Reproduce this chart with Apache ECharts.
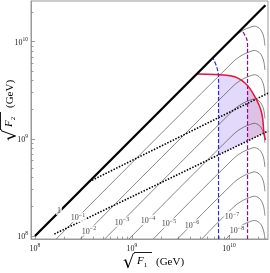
<!DOCTYPE html>
<html><head><meta charset="utf-8">
<script src="https://cdn.jsdelivr.net/npm/echarts@6/dist/echarts.min.js"></script>
<style>html,body{margin:0;padding:0;background:#fff}#c{width:270px;height:273px}</style>
</head><body><div id="c"></div>
<script>
// All coordinates are log10 of sqrt(F) in GeV.
const xRange = [7.959, 10.402];
const yRange = [7.969, 10.419];
const majorTicks = [8, 9, 10];
const minorMultipliers = [2, 3, 4, 5, 6, 7, 8, 9];

const diagonal = [[8.0, 8.0], [10.375, 10.375]];
const contourExponents = [0, -1, -2, -3, -4, -5, -6, -7, -8];
const contour0 = [[10.00,10.00],[10.05,10.05],[10.15,10.12],[10.21,10.145],[10.26,10.16],[10.31,10.14],[10.34,10.10],[10.36,10.04],[10.37,9.96]];
const contour1 = [[8.22,7.97],[10.05,9.80],[10.15,9.87],[10.21,9.895],[10.26,9.91],[10.31,9.89],[10.34,9.85],[10.36,9.79],[10.37,9.71]];
const contour2 = [[8.47,7.97],[10.05,9.55],[10.15,9.62],[10.21,9.645],[10.26,9.66],[10.31,9.64],[10.34,9.60],[10.36,9.54],[10.37,9.46]];
const contour3 = [[8.72,7.97],[10.05,9.30],[10.15,9.37],[10.21,9.395],[10.26,9.41],[10.31,9.39],[10.34,9.35],[10.36,9.29],[10.37,9.21]];
const contour4 = [[8.97,7.97],[10.05,9.05],[10.15,9.12],[10.21,9.145],[10.26,9.16],[10.31,9.14],[10.34,9.10],[10.36,9.04],[10.37,8.96]];
const contour5 = [[9.22,7.97],[10.05,8.80],[10.15,8.87],[10.21,8.895],[10.26,8.91],[10.31,8.89],[10.34,8.85],[10.36,8.79],[10.37,8.71]];
const contour6 = [[9.47,7.97],[10.05,8.55],[10.15,8.62],[10.21,8.645],[10.26,8.66],[10.31,8.64],[10.34,8.60],[10.36,8.54],[10.37,8.46]];
const contour7 = [[9.72,7.97],[10.05,8.30],[10.15,8.37],[10.21,8.395],[10.26,8.41],[10.31,8.39],[10.34,8.35],[10.36,8.29],[10.37,8.21]];
const contour8 = [[9.97,7.97],[10.05,8.05],[10.15,8.12],[10.21,8.145],[10.26,8.16],[10.31,8.14],[10.34,8.10],[10.36,8.04],[10.37,7.97]];
const contourLabelPos = [[8.247,8.268],[8.443,8.193],[8.557,8.057],[8.897,8.147],[9.165,8.165],[9.381,8.131],[9.619,8.119],[10.031,8.206],[10.082,8.062]];

const dottedUpper = [[8.56, 8.56], [10.402, 9.47]];
const dottedLower = [[8.20, 8.02], [10.402, 9.08]];
const blueDashed = [[9.892,7.969],[9.892,9.63],[9.886,9.69],[9.872,9.745],[9.835,9.832]];
const purpleDashed = [[10.191,7.969],[10.191,9.96],[10.185,10.02],[10.165,10.065],[10.13,10.125]];
const redCurve = [[9.670,9.667],[9.856,9.662],[10.028,9.647],[10.165,9.575],[10.268,9.431],[10.337,9.266],[10.361,9.060],[10.376,8.988]];

const contours = [contour0, contour1, contour2, contour3, contour4, contour5, contour6, contour7, contour8];

function lineAt(seg, x) {
  const [a, b] = seg;
  return a[1] + (b[1] - a[1]) * (x - a[0]) / (b[0] - a[0]);
}
function curveAt(pts, x) {
  for (let i = 0; i < pts.length - 1; i++) {
    if (x >= pts[i][0] && x <= pts[i + 1][0]) {
      const t = (x - pts[i][0]) / (pts[i + 1][0] - pts[i][0]);
      return pts[i][1] + t * (pts[i + 1][1] - pts[i][1]);
    }
  }
  return pts[pts.length - 1][1];
}
// region between a vertical boundary x0, the red curve above and the lower dotted line below
function region(x0) {
  const pts = [[x0, lineAt(dottedLower, x0)], [x0, curveAt(redCurve, x0)]];
  for (let i = 0; i < redCurve.length; i++) {
    const p = redCurve[i];
    if (p[0] <= x0) continue;
    const d = lineAt(dottedLower, p[0]);
    if (p[1] >= d) { pts.push(p); continue; }
    const q = redCurve[i - 1];
    const dq = lineAt(dottedLower, q[0]);
    const t = (q[1] - dq) / ((q[1] - dq) - (p[1] - d));
    const xi = q[0] + t * (p[0] - q[0]);
    pts.push([xi, lineAt(dottedLower, xi)]);
    break;
  }
  return pts;
}
const regionA = region(blueDashed[0][0]);
const regionB = region(purpleDashed[0][0]);

const serif = '"Liberation Serif", "DejaVu Serif", serif';
const tickRich = {
  b: { fontSize: 8, fontFamily: serif, color: '#222', verticalAlign: 'bottom', lineHeight: 10 },
  s: { fontSize: 5.5, fontFamily: serif, color: '#222', verticalAlign: 'top', lineHeight: 10 }
};
const minorVals = [];
for (const m of [7, 8, 9, 10]) for (const k of minorMultipliers) minorVals.push(m + Math.log10(k));

function axisPair(dim, range) {
  const base = {
    type: 'value', min: range[0], max: range[1], gridIndex: 0,
    position: dim === 'x' ? 'bottom' : 'left',
    splitLine: { show: false }
  };
  return [
    Object.assign({}, base, {
      axisLine: { show: true, lineStyle: { color: '#999', width: 1 } },
      axisTick: { show: true, inside: true, length: 4, customValues: majorTicks, lineStyle: { color: '#888', width: 0.8 } },
      axisLabel: {
        show: true, customValues: majorTicks, margin: dim === 'x' ? 4 : 3,
        formatter: v => '{b|10}{s|' + Math.round(v) + '}', rich: tickRich
      }
    }),
    Object.assign({}, base, {
      axisLine: { show: false },
      axisTick: { show: true, inside: true, length: 2.5, customValues: minorVals, lineStyle: { color: '#888', width: 0.8 } },
      axisLabel: { show: false }
    })
  ];
}

function polySeries(pts, color, z) {
  return {
    type: 'custom', coordinateSystem: 'cartesian2d', z: z, silent: true, clip: true,
    data: [pts[0]],
    renderItem: (params, api) => ({
      type: 'polygon',
      shape: { points: pts.map(p => api.coord(p)) },
      style: { fill: color }
    })
  };
}

const series = [];
series.push(polySeries(regionA, '#e2d9fb', 1));
series.push(polySeries(regionB, 'rgba(215,150,190,0.35)', 2));
contours.forEach((c, i) => series.push({
  type: 'line', data: c, symbol: 'none', smooth: 0.35, z: 3, silent: true,
  lineStyle: { color: '#444', width: 0.65 }
}));
series.push({ type: 'line', data: dottedUpper, symbol: 'none', z: 4, lineStyle: { color: '#000', width: 1.6, type: [1.5, 1.5] } });
series.push({ type: 'line', data: dottedLower, symbol: 'none', z: 4, lineStyle: { color: '#000', width: 1.6, type: [1.5, 1.5] } });
series.push({ type: 'line', data: blueDashed, symbol: 'none', smooth: 0.3, z: 5, lineStyle: { color: '#2a2ae0', width: 1.2, type: [4, 2] } });
series.push({ type: 'line', data: purpleDashed, symbol: 'none', smooth: 0.3, z: 5, lineStyle: { color: '#8b0a8b', width: 1.2, type: [4, 2] } });
series.push({ type: 'line', data: redCurve, symbol: 'none', smooth: 0.4, z: 5, lineStyle: { color: '#e0143c', width: 1.5 } });
series.push({ type: 'line', data: diagonal, symbol: 'none', z: 6, lineStyle: { color: '#000', width: 2.3 } });
series.push({
  type: 'scatter', data: contourLabelPos, symbolSize: 0.1, z: 8, silent: true,
  itemStyle: { color: 'rgba(0,0,0,0)' },
  label: {
    show: true, position: 'inside', backgroundColor: '#fff', padding: [0, 1],
    formatter: p => {
      const e = contourExponents[p.dataIndex];
      return e === 0 ? '{b|1}' : '{b|10}{s|\u2212' + (-e) + '}';
    },
    rich: {
      b: { fontSize: 8, fontFamily: serif, color: '#111', verticalAlign: 'bottom', lineHeight: 10 },
      s: { fontSize: 6, fontFamily: serif, color: '#111', verticalAlign: 'top', lineHeight: 10 }
    }
  }
});

const titleRich = {
  i: { fontSize: 11, fontFamily: serif, fontStyle: 'italic', color: '#000', verticalAlign: 'top', lineHeight: 13 },
  s: { fontSize: 7, fontFamily: serif, color: '#000', verticalAlign: 'bottom', lineHeight: 13 }
};
function titleGroup(x, y, rot, sub) {
  return {
    type: 'group', x: x, y: y, rotation: rot, silent: true,
    children: [
      { type: 'text', x: 0, y: 1, style: { text: '\u221A', fontSize: 18, fontFamily: '"DejaVu Serif", serif', fill: '#000', verticalAlign: 'middle' } },
      { type: 'line', shape: { x1: 11, y1: -9.5, x2: 29, y2: -9.5 }, style: { stroke: '#000', lineWidth: 0.9 } },
      { type: 'text', x: 14, y: 0, style: { text: '{i|F}{s|' + sub + '}', rich: titleRich, verticalAlign: 'middle' } },
      { type: 'text', x: 33, y: 0, style: { text: '(GeV)', fontSize: 11, fontFamily: serif, fill: '#000', verticalAlign: 'middle' } }
    ]
  };
}

const xa = axisPair('x', xRange), ya = axisPair('y', yRange);
const chart = echarts.init(document.getElementById('c'), null, { renderer: 'canvas' });
chart.setOption({
  animation: false,
  backgroundColor: '#fff',
  grid: { left: 31, top: 1, right: 2, bottom: 34, show: true, borderColor: '#999', borderWidth: 1, backgroundColor: 'transparent' },
  xAxis: xa,
  yAxis: ya,
  series: series.map(s => Object.assign({ xAxisIndex: 0, yAxisIndex: 0 }, s)),
  graphic: [titleGroup(123, 262, 0, '1'), titleGroup(10, 141, Math.PI / 2, '2')]
});
</script></body></html>
